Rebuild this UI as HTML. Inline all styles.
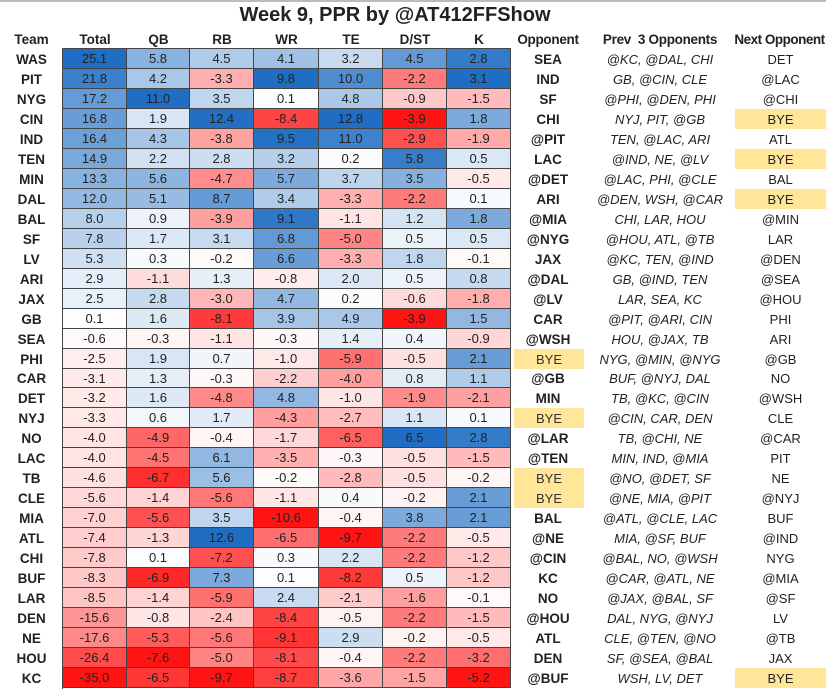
<!DOCTYPE html>
<html><head><meta charset="utf-8"><style>
html,body{margin:0;width:826px;height:689px;overflow:hidden}
body{background:#fff;position:relative;font-family:"Liberation Sans",sans-serif;color:#222}
.c{position:absolute;box-sizing:border-box;display:flex;align-items:center;justify-content:center;font-size:13px;white-space:nowrap}
.h{font-weight:bold;font-size:13.5px}
.t{position:absolute;left:0;width:790px;top:4px;text-align:center;font-weight:bold;font-size:20px}
</style></head><body>
<div style="position:absolute;left:0;top:0;width:826px;height:2px;background:#bbb"></div>
<div class="t">Week 9, PPR by @AT412FFShow</div>
<div id="g"></div>
<script>
const D=`WAS 25.1 5.8 4.5 4.1 3.2 4.5 2.8 SEA|@KC, @DAL, CHI|DET
PIT 21.8 4.2 -3.3 9.8 10.0 -2.2 3.1 IND|GB, @CIN, CLE|@LAC
NYG 17.2 11.0 3.5 0.1 4.8 -0.9 -1.5 SF|@PHI, @DEN, PHI|@CHI
CIN 16.8 1.9 12.4 -8.4 12.8 -3.9 1.8 CHI|NYJ, PIT, @GB|BYE
IND 16.4 4.3 -3.8 9.5 11.0 -2.9 -1.9 @PIT|TEN, @LAC, ARI|ATL
TEN 14.9 2.2 2.8 3.2 0.2 5.8 0.5 LAC|@IND, NE, @LV|BYE
MIN 13.3 5.6 -4.7 5.7 3.7 3.5 -0.5 @DET|@LAC, PHI, @CLE|BAL
DAL 12.0 5.1 8.7 3.4 -3.3 -2.2 0.1 ARI|@DEN, WSH, @CAR|BYE
BAL 8.0 0.9 -3.9 9.1 -1.1 1.2 1.8 @MIA|CHI, LAR, HOU|@MIN
SF 7.8 1.7 3.1 6.8 -5.0 0.5 0.5 @NYG|@HOU, ATL, @TB|LAR
LV 5.3 0.3 -0.2 6.6 -3.3 1.8 -0.1 JAX|@KC, TEN, @IND|@DEN
ARI 2.9 -1.1 1.3 -0.8 2.0 0.5 0.8 @DAL|GB, @IND, TEN|@SEA
JAX 2.5 2.8 -3.0 4.7 0.2 -0.6 -1.8 @LV|LAR, SEA, KC|@HOU
GB 0.1 1.6 -8.1 3.9 4.9 -3.9 1.5 CAR|@PIT, @ARI, CIN|PHI
SEA -0.6 -0.3 -1.1 -0.3 1.4 0.4 -0.9 @WSH|HOU, @JAX, TB|ARI
PHI -2.5 1.9 0.7 -1.0 -5.9 -0.5 2.1 BYE|NYG, @MIN, @NYG|@GB
CAR -3.1 1.3 -0.3 -2.2 -4.0 0.8 1.1 @GB|BUF, @NYJ, DAL|NO
DET -3.2 1.6 -4.8 4.8 -1.0 -1.9 -2.1 MIN|TB, @KC, @CIN|@WSH
NYJ -3.3 0.6 1.7 -4.3 -2.7 1.1 0.1 BYE|@CIN, CAR, DEN|CLE
NO -4.0 -4.9 -0.4 -1.7 -6.5 6.5 2.8 @LAR|TB, @CHI, NE|@CAR
LAC -4.0 -4.5 6.1 -3.5 -0.3 -0.5 -1.5 @TEN|MIN, IND, @MIA|PIT
TB -4.6 -6.7 5.6 -0.2 -2.8 -0.5 -0.2 BYE|@NO, @DET, SF|NE
CLE -5.6 -1.4 -5.6 -1.1 0.4 -0.2 2.1 BYE|@NE, MIA, @PIT|@NYJ
MIA -7.0 -5.6 3.5 -10.6 -0.4 3.8 2.1 BAL|@ATL, @CLE, LAC|BUF
ATL -7.4 -1.3 12.6 -6.5 -9.7 -2.2 -0.5 @NE|MIA, @SF, BUF|@IND
CHI -7.8 0.1 -7.2 0.3 2.2 -2.2 -1.2 @CIN|@BAL, NO, @WSH|NYG
BUF -8.3 -6.9 7.3 0.1 -8.2 0.5 -1.2 KC|@CAR, @ATL, NE|@MIA
LAR -8.5 -1.4 -5.9 2.4 -2.1 -1.6 -0.1 NO|@JAX, @BAL, SF|@SF
DEN -15.6 -0.8 -2.4 -8.4 -0.5 -2.2 -1.5 @HOU|DAL, NYG, @NYJ|LV
NE -17.6 -5.3 -5.6 -9.1 2.9 -0.2 -0.5 ATL|CLE, @TEN, @NO|@TB
HOU -26.4 -7.6 -5.0 -8.1 -0.4 -2.2 -3.2 DEN|SF, @SEA, @BAL|JAX
KC -35.0 -6.5 -9.7 -8.7 -3.6 -1.5 -5.2 @BUF|WSH, LV, DET|BYE`;
const rows=D.split('\n').map(l=>{const p=l.split('|');const a=p[0].split(' ');return {t:a[0],v:a.slice(1,8),o:a[8],p:p[1],n:p[2]};});
const xs=[63,127,190,254,319,383,447,511];
const y0=49,rh=19.97;
let h='';
const hdr=['Total','QB','RB','WR','TE','D/ST','K'];
function cell(x,y,w,hh,txt,st,cls){h+=`<div class="c ${cls||''}" style="left:${x}px;top:${y}px;width:${w}px;height:${hh}px;${st||''}">${txt}</div>`;}
cell(0,30,63,19,'Team','','h');
hdr.forEach((s,i)=>cell(xs[i],30,xs[i+1]-xs[i],19,s,'','h'));
cell(511,30,74,19,'Opponent','letter-spacing:-0.3px','h');
cell(585,30,150,19,'Prev&nbsp; 3 Opponents','letter-spacing:-0.3px','h');
cell(733,30,93,19,'Next Opponent','letter-spacing:-0.5px','h');
const mx=[],mn=[];
for(let i=0;i<7;i++){const vs=rows.map(r=>+r.v[i]);mx.push(Math.max(...vs));mn.push(Math.min(...vs));}
function col(v,i){let r,g,b;if(v>=0){const f=v/mx[i];r=255+(31-255)*f;g=255+(110-255)*f;b=255+(196-255)*f;}else{const f=v/mn[i];r=255;g=255+(20-255)*f;b=255+(20-255)*f;}return `rgb(${r|0},${g|0},${b|0})`;}
rows.forEach((r,k)=>{const y=Math.round(y0+k*rh),y2=Math.round(y0+(k+1)*rh),hh=y2-y;
cell(0,y,63,hh,r.t,'','h');
r.v.forEach((v,i)=>cell(xs[i],y,xs[i+1]-xs[i],hh,v,`background:${col(+v,i)};border-right:1px solid #444;border-bottom:1px solid #444`));
cell(511,y,74,hh,r.o,r.o=='BYE'?'background:#ffe699;font-weight:normal;color:#333;left:514px;width:70px':'',r.o=='BYE'?'':'h');
cell(585,y,150,hh,r.p,'font-style:italic');
cell(735,y,91,hh,r.n,r.n=='BYE'?'background:#ffe699':'');
});
h+=`<div style="position:absolute;left:62px;top:48px;width:1px;height:641px;background:#444"></div>`;
h+=`<div style="position:absolute;left:62px;top:48px;width:449px;height:1px;background:#444"></div>`;
document.getElementById('g').innerHTML=h;
</script>
</body></html>
